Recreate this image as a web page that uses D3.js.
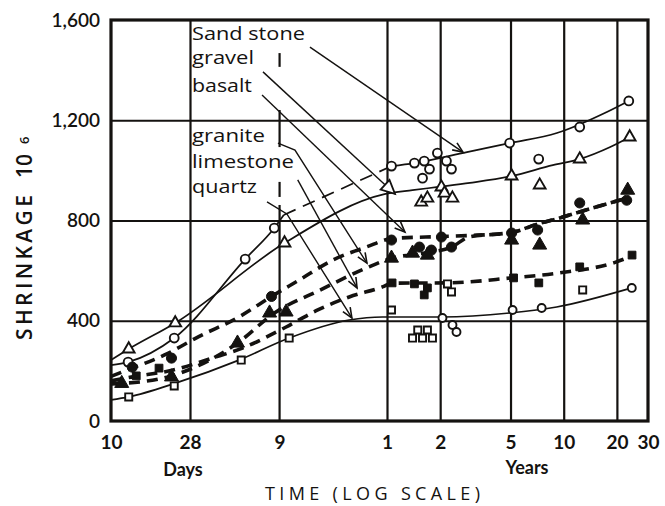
<!DOCTYPE html>
<html><head><meta charset="utf-8">
<script src="https://cdn.jsdelivr.net/npm/d3@7"></script>
<style>
html,body{margin:0;padding:0;background:#fff;}
svg{display:block;}
text{font-family:"Open Sans",Lato,sans-serif;fill:#141210;}
</style></head><body>
<svg id="chart" width="665" height="506"></svg>
<script>
// Drying shrinkage of concrete (x 10^-6) against age, by type of aggregate.
// Ages are in days on a log axis.

const yTicks = [0, 400, 800, 1200, 1600];
const yTickLabels = ["0", "400", "800", "1,200", "1,600"];
const xTickDays = [10, 28, 90, 365, 730, 1826, 3652, 7305, 10957];
const xTickLabels = ["10", "28", "9", "1", "2", "5", "10", "20", "30"];
const xGridDays = [28, 365, 730, 1826, 3652, 7305];
const yGridValues = [400, 800, 1200];
// the 90-day rule is broken near the top, where the labels sit
const grid90Pieces = [[1468, 1413], [1241, 1093], [954, 894], [862, 0]];

// sandstone: open circles
const sandstonePoints = [[12.5,235],[22.8,331],[57.5,646],[84,770],[387,1017],[522,1029],[593,1037],[704,1069],[792,1037],[846,1005],[635,1005],[580,969],[1805,1109],[2636,1045],[4500,1173],[8530,1277]];
const sandstoneEarly = [[10,223],[12.5,235],[22.8,331],[57.5,646],[84,770],[95,822]];
const sandstoneBridge = [[95,822],[387,1017]];
const sandstoneLate = [[387,1017],[522,1029],[1035,1073],[1805,1109],[3342,1149],[6412,1233],[8530,1277]];

// gravel: open triangles
const gravelPoints = [[12.6,287],[23.1,391],[96,710],[570,873],[618,889],[742,933],[772,909],[856,889],[1852,977],[2671,941],[4500,1045],[8630,1133]];
const gravelLine = [[10,243],[12.6,287],[23.1,391],[96,710],[353,905],[509,921],[695,933],[1076,950],[1852,977],[3170,1021],[4500,1045],[6700,1093],[8650,1133]];

// basalt: filled circles
const basaltPoints = [[13.2,215],[22,251],[81,497],[387,722],[557,694],[651,682],[742,734],[846,694],[1852,750],[2600,762],[4500,870],[8300,881]];
const basaltLine = [[10,178],[11.5,195],[21,270],[31,335],[53,415],[81,497],[116,562],[180,642],[278,694],[390,728],[742,736],[1070,740],[1852,752],[2600,786],[3470,810],[4677,838],[8410,890]];

// granite: filled triangles
const granitePoints = [[11.5,150],[22,176],[52,311],[79,431],[98,435],[387,650],[509,670],[618,662],[1852,722],[2670,702],[4677,802],[8410,921]];
const graniteLine = [[10,148],[11.5,150],[22,180],[52,311],[85,433],[150,520],[278,610],[390,650],[600,670],[846,694],[1070,735],[1852,752],[2600,786],[3470,810],[4677,838],[8410,890]];

// limestone: filled squares
const limestonePoints = [[13.9,180],[18.7,211],[390,551],[522,547],[593,503],[618,531],[1900,571],[2640,551],[4500,615],[8900,662]];
const limestoneLine = [[10,160],[13,175],[23,205],[37,250],[55,290],[98,375],[145,440],[223,495],[344,535],[390,550],[803,551],[1852,571],[3467,591],[7194,634],[8630,655]];

// quartz: open squares, later readings as open circles
const quartzSquares = [[12.6,96],[22.8,140],[54.6,243],[102,331],[387,443],[509,331],[580,331],[660,331],[545,363],[618,363],[803,547],[846,515],[4677,523]];
const quartzCircles = [[752,411],[857,383],[903,355],[1876,443],[2740,451],[8870,531]];
const quartzLine = [[10,84],[12.6,96],[23.4,152],[53,243],[102,331],[223,403],[344,415],[752,415],[1803,431],[3333,455],[8870,531]];

// labels and their leader arrows (age in days, shrinkage)
const labelNames = ["Sand stone", "gravel", "basalt", "granite", "limestone", "quartz"];
const labelLevels = [1520, 1425, 1313, 1113, 1010, 910];
const labelWidths = [113, 62, 60, 73, 102, 65];
const arrowPaths = [
  [[133.7,1492],[982,1073]],
  [[72.5,1393],[405,906]],
  [[71.6,1301],[461,754]],
  [[88.1,1109],[110,1081],[281,630]],
  [[114,962],[247,531]],
  [[76.4,874],[99,826],[231,411]]
];

const svg = d3.select("#chart");
const x = d3.scaleLog().domain([10, 10957]).range([111, 648]);
const y = d3.scaleLinear().domain([0, 1600]).range([421, 20]);
const ink = "#141210";

// horizontal rules
svg.append("g").attr("transform", `translate(${x(10)},0)`)
  .call(d3.axisRight(y).tickValues(yGridValues).tickSize(x(10957) - x(10)).tickFormat(""))
  .call(g => g.select(".domain").remove())
  .call(g => g.selectAll("line").attr("stroke", ink).attr("stroke-width", 2.2));

// vertical rules
svg.append("g").attr("transform", `translate(0,${y(0)})`)
  .call(d3.axisTop(x).tickValues(xGridDays).tickSize(y(0) - y(1600)).tickFormat(""))
  .call(g => g.select(".domain").remove())
  .call(g => g.selectAll("line").attr("stroke", ink).attr("stroke-width", 2.2));
svg.append("g").selectAll("line").data(grid90Pieces).join("line")
  .attr("x1", x(90)).attr("x2", x(90))
  .attr("y1", d => y(d[0])).attr("y2", d => y(d[1]))
  .attr("stroke", ink).attr("stroke-width", 2.2);

// frame
svg.append("rect")
  .attr("x", x(10)).attr("y", y(1600))
  .attr("width", x(10957) - x(10)).attr("height", y(0) - y(1600))
  .attr("fill", "none").attr("stroke", ink).attr("stroke-width", 3.2);

// axis labels
const yAxis = svg.append("g").attr("transform", `translate(${x(10)},0)`)
  .call(d3.axisLeft(y).tickValues(yTicks).tickFormat((d, i) => yTickLabels[i]).tickSize(0).tickPadding(11));
yAxis.select(".domain").remove();
yAxis.selectAll("text").attr("font-size", 19).attr("font-weight", 600).attr("fill", ink)
  .style("font-family", "Lato, sans-serif");

const xAxis = svg.append("g").attr("transform", `translate(0,${y(0)})`)
  .call(d3.axisBottom(x).tickValues(xTickDays).tickFormat((d, i) => xTickLabels[i]).tickSize(0).tickPadding(15));
xAxis.select(".domain").remove();
xAxis.selectAll("text").attr("font-size", 19).attr("font-weight", 700).attr("fill", ink)
  .style("font-family", "Lato, sans-serif");

svg.append("text").attr("x", 183).attr("y", 476).attr("text-anchor", "middle")
  .attr("font-size", 18).attr("font-weight", 700).style("font-family", "Lato, sans-serif").text("Days");
svg.append("text").attr("x", 527).attr("y", 474).attr("text-anchor", "middle")
  .attr("font-size", 18).attr("font-weight", 700).style("font-family", "Lato, sans-serif").text("Years");
svg.append("text").attr("x", 265).attr("y", 500)
  .attr("font-size", 18).attr("textLength", 215).attr("lengthAdjust", "spacing")
  .text("TIME (LOG SCALE)");

svg.append("text").attr("transform", "translate(32,340) rotate(-90)")
  .attr("font-size", 21).attr("font-weight", 600).attr("textLength", 145).attr("lengthAdjust", "spacing")
  .text("SHRINKAGE");
svg.append("text").attr("transform", "translate(32,178) rotate(-90)")
  .attr("font-size", 21).attr("font-weight", 600).text("10");
svg.append("text").attr("transform", "translate(29,144) rotate(-90)")
  .attr("font-size", 13).attr("font-weight", 600).text("6");

// lines
const line = d3.line().x(d => x(d[0])).y(d => y(d[1])).curve(d3.curveMonotoneX);
const straight = d3.line().x(d => x(d[0])).y(d => y(d[1]));

function thin(data, dash) {
  svg.append("path").attr("d", line(data)).attr("fill", "none")
    .attr("stroke", ink).attr("stroke-width", 1.7)
    .attr("stroke-dasharray", dash || null);
}
function heavy(data) {
  svg.append("path").attr("d", line(data)).attr("fill", "none")
    .attr("stroke", ink).attr("stroke-width", 3.6)
    .attr("stroke-dasharray", "11,7");
}
thin(sandstoneEarly);
thin(sandstoneBridge, "13,8");
thin(sandstoneLate);
thin(gravelLine);
thin(quartzLine);
heavy(basaltLine);
heavy(graniteLine);
heavy(limestoneLine);

// leader arrows
arrowPaths.forEach((pts, i) => {
  svg.append("path").attr("d", straight(pts)).attr("fill", "none")
    .attr("stroke", ink).attr("stroke-width", 1.4);
  const a = pts[pts.length - 2], b = pts[pts.length - 1];
  const tx = x(b[0]), ty = y(b[1]);
  const ang = Math.atan2(ty - y(a[1]), tx - x(a[0]));
  if (i === 1) {
    // open triangular head
    const p1 = [tx - 15 * Math.cos(ang - 0.45), ty - 15 * Math.sin(ang - 0.45)];
    const p2 = [tx - 15 * Math.cos(ang + 0.45), ty - 15 * Math.sin(ang + 0.45)];
    svg.append("path").attr("d", `M${tx},${ty}L${p1}L${p2}Z`)
      .attr("fill", "#fff").attr("stroke", ink).attr("stroke-width", 1.8);
  } else {
    const L = 11;
    const p1 = [tx - L * Math.cos(ang - 0.4), ty - L * Math.sin(ang - 0.4)];
    const p2 = [tx - L * Math.cos(ang + 0.4), ty - L * Math.sin(ang + 0.4)];
    svg.append("path").attr("d", `M${p1}L${tx},${ty}L${p2}`)
      .attr("fill", "none").attr("stroke", ink).attr("stroke-width", 1.6);
  }
});

// markers
function markers(data, shape, size, filled) {
  svg.append("g").selectAll("path").data(data).join("path")
    .attr("transform", d => `translate(${x(d[0])},${y(d[1])})`)
    .attr("d", d3.symbol().type(shape).size(size))
    .attr("fill", filled ? ink : "#fff")
    .attr("stroke", ink).attr("stroke-width", filled ? 1 : 1.9);
}
markers(sandstonePoints, d3.symbolCircle, 62, false);
markers(gravelPoints, d3.symbolTriangle, 60, false);
markers(basaltPoints, d3.symbolCircle, 80, true);
markers(granitePoints, d3.symbolTriangle, 85, true);
markers(limestonePoints, d3.symbolSquare, 60, true);
markers(quartzSquares, d3.symbolSquare, 50, false);
markers(quartzCircles, d3.symbolCircle, 50, false);

// aggregate labels
svg.append("g").selectAll("text").data(labelNames).join("text")
  .attr("x", x(28) + 2).attr("y", (d, i) => y(labelLevels[i]))
  .attr("font-size", 19).attr("font-weight", 500)
  .attr("textLength", (d, i) => labelWidths[i]).attr("lengthAdjust", "spacingAndGlyphs")
  .text(d => d);
</script>
</body></html>
